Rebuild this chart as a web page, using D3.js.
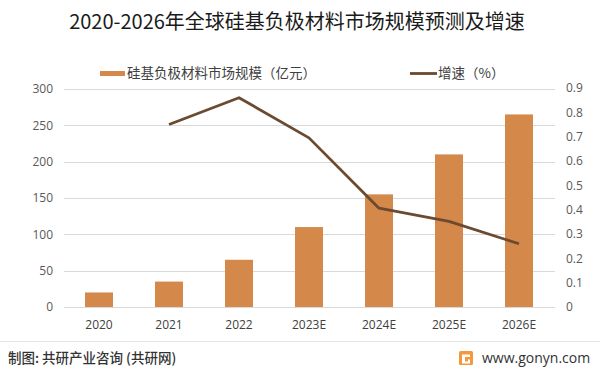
<!DOCTYPE html>
<html><head><meta charset="utf-8">
<script src="https://cdn.jsdelivr.net/npm/d3@7"></script>
<style>
html,body{margin:0;padding:0;background:#fff;}
svg{display:block;font-family:"Noto Sans CJK SC","Noto Sans",sans-serif;}
</style></head>
<body>
<svg id="chart" width="600" height="376"></svg>
<script>
const title = "2020-2026年全球硅基负极材料市场规模预测及增速";
const categories = ["2020","2021","2022","2023E","2024E","2025E","2026E"];
const marketSize = [20,35,65,110,155,210,265];
const growth = [null,0.75,0.86,0.695,0.406,0.352,0.26];
const leftTicks = [0,50,100,150,200,250,300];
const rightTicks = [0,0.1,0.2,0.3,0.4,0.5,0.6,0.7,0.8,0.9];
const barName = "硅基负极材料市场规模（亿元）";
const lineName = "增速（%）";
const source = "制图: 共研产业咨询 (共研网)";
const site = "www.gonyn.com";

const svg = d3.select("#chart");
const barColor = "#D4894B", lineColor = "#6B4A2F";
const L = 64, R = 554, T = 89, B = 307;

svg.append("text").attr("x",297).attr("y",29).attr("text-anchor","middle")
  .attr("font-size",20).attr("fill","#1a1a1a").text(title);

const xc = d3.scaleBand().domain(categories).range([L,R]);
const y = d3.scaleLinear().domain([0,300]).range([B,T]);
const y2 = d3.scaleLinear().domain([0,0.9]).range([B,88]);

// gridlines
svg.append("g").selectAll("line").data(leftTicks).join("line")
  .attr("x1",L).attr("x2",R+1).attr("y1",d=>Math.round(y(d))+0.5).attr("y2",d=>Math.round(y(d))+0.5)
  .attr("stroke","#d9d9d9").attr("stroke-width",1);

const axFont = "'Open Sans','Noto Sans',sans-serif";
// left axis
const ga = svg.append("g").attr("transform",`translate(${L},0)`)
  .call(d3.axisLeft(y).tickValues(leftTicks).tickSize(0).tickPadding(11));
ga.select(".domain").remove();
ga.selectAll("text").attr("font-size",12).attr("fill","#595959").attr("font-family",axFont);

// right axis
const gr = svg.append("g").attr("transform",`translate(${R},0)`)
  .call(d3.axisRight(y2).tickValues(rightTicks).tickSize(0).tickPadding(12).tickFormat(d=>d3.format("~g")(d)));
gr.select(".domain").remove();
gr.selectAll("text").attr("font-size",12).attr("fill","#595959").attr("font-family",axFont);

// x axis
const gx = svg.append("g").attr("transform",`translate(0,${B})`)
  .call(d3.axisBottom(xc).tickSize(0).tickPadding(13));
gx.select(".domain").remove();
gx.selectAll("text").attr("font-size",12).attr("fill","#404040").attr("font-family",axFont);

// bars
svg.append("g").selectAll("rect").data(categories).join("rect")
  .attr("x",(d)=>xc(d)+xc.bandwidth()/2-14).attr("width",28)
  .attr("y",(d,i)=>y(marketSize[i])).attr("height",(d,i)=>B-y(marketSize[i]))
  .attr("fill",barColor);

// line
const pts = categories.map((c,i)=>({c,v:growth[i]})).filter(d=>d.v!==null);
svg.append("path").datum(pts)
  .attr("d",d3.line().x(d=>xc(d.c)+xc.bandwidth()/2).y(d=>y2(d.v)))
  .attr("fill","none").attr("stroke",lineColor).attr("stroke-width",2.8).attr("stroke-linejoin","round");

// legend
svg.append("rect").attr("x",100).attr("y",71).attr("width",25).attr("height",5).attr("fill",barColor);
svg.append("text").attr("x",127).attr("y",78).attr("font-size",13.5).attr("fill","#404040").text(barName);
svg.append("line").attr("x1",410).attr("x2",437).attr("y1",73.5).attr("y2",73.5).attr("stroke",lineColor).attr("stroke-width",2.8);
svg.append("text").attr("x",438).attr("y",78).attr("font-size",13.5).attr("fill","#404040").text(lineName);

// footer
svg.append("line").attr("x1",0).attr("x2",600).attr("y1",341.5).attr("y2",341.5).attr("stroke","#e6e6e6");
svg.append("text").attr("x",8).attr("y",363).attr("font-size",13.5).attr("font-weight",500).attr("fill","#333").text(source);
const lg = svg.append("g").attr("transform","translate(459,351)");
lg.append("rect").attr("width",14).attr("height",14).attr("rx",1.5).attr("fill","#F29A3B");
lg.append("path").attr("d","M3,3.5 H11 V6 H6 V10.5 H9 V8.5 H11 V12.5 H3 Z").attr("fill","#fff");
svg.append("text").attr("x",482).attr("y",363).attr("font-size",14).attr("fill","#333")
  .attr("font-family",axFont).text(site);
</script>
</body></html>
